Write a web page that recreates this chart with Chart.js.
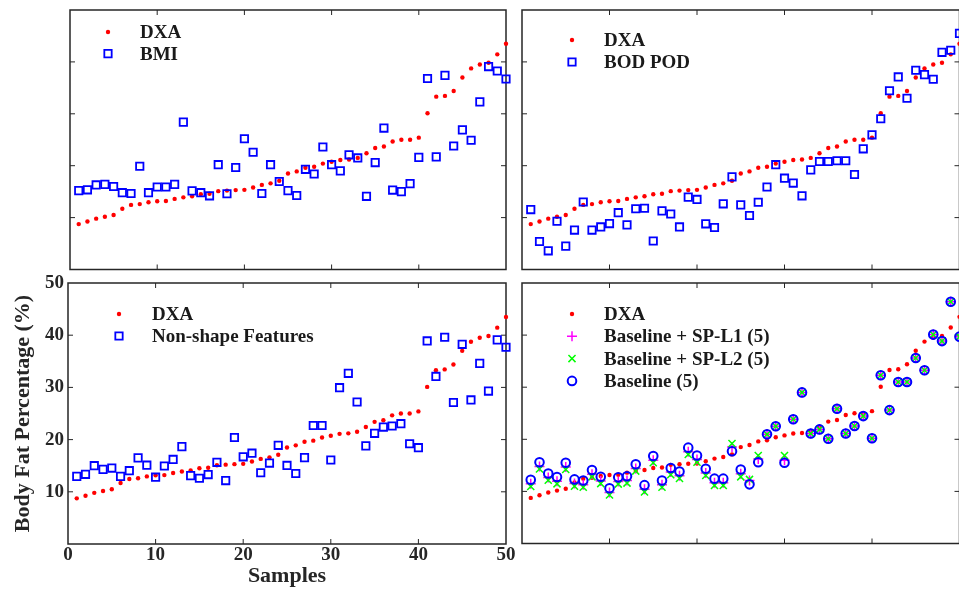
<!DOCTYPE html>
<html lang="en">
<head>
    <meta charset="UTF-8"/>
    <title>body fat percentage</title>
    <script src="https://cdn.jsdelivr.net/npm/chart.js@4.4.1/dist/chart.umd.min.js"></script>
    <style>
        html, body { margin: 0; padding: 0; background: #fff; overflow: hidden; }
        #wrap { position: relative; width: 959px; height: 591px; overflow: hidden; }
        #wrap canvas { position: absolute; }
    </style>
</head>
<body>
<div id="wrap">
    <canvas id="bmiChart" width="455" height="275" style="left:60px;top:0;"></canvas>
    <canvas id="podChart" width="445" height="275" style="left:515px;top:0;"></canvas>
    <canvas id="nsChart" width="515" height="316" style="left:0;top:275px;"></canvas>
    <canvas id="spChart" width="445" height="275" style="left:515px;top:275px;"></canvas>
</div>
<script>
    // samples (x) and tick values
    const SAMPLES = [1, 2, 3, 4, 5, 6, 7, 8, 9, 10, 11, 12, 13, 14, 15, 16, 17, 18, 19, 20,
        21, 22, 23, 24, 25, 26, 27, 28, 29, 30, 31, 32, 33, 34, 35, 36, 37, 38, 39, 40,
        41, 42, 43, 44, 45, 46, 47, 48, 49, 50];
    const X_TICKS = [0, 10, 20, 30, 40, 50];
    const Y_TICKS = [10, 20, 30, 40, 50];
    const INNER_TICKS = [10, 20, 30, 40];

    // body fat (%) per sample
    const DXA = [8.75, 9.25, 9.8, 10.15, 10.5, 11.7, 12.45, 12.6, 12.95, 13.15,
        13.2, 13.6, 13.9, 14.1, 14.5, 14.6, 15.1, 15.2, 15.3, 15.35,
        15.8, 16.3, 16.6, 17.1, 18.5, 18.9, 19.6, 19.8, 20.4, 20.75,
        21.1, 21.2, 21.5, 22.4, 23.4, 23.7, 24.65, 25.0, 25.0, 25.4,
        30.1, 33.3, 33.45, 34.4, 37.0, 38.75, 39.5, 39.85, 41.45, 43.5];
    const BMI = [15.2, 15.35, 16.3, 16.4, 16.0, 14.8, 14.65, 19.9, 14.8, 15.9,
        15.9, 16.4, 28.4, 15.15, 14.8, 14.2, 20.2, 14.6, 19.65, 25.2,
        22.6, 14.65, 20.2, 16.95, 15.2, 14.25, 19.3, 18.4, 23.6, 20.2,
        19.0, 22.1, 21.5, 14.1, 20.6, 27.25, 15.3, 15.0, 16.55, 21.6,
        36.8, 21.7, 37.4, 23.8, 26.9, 24.9, 32.3, 39.1, 38.25, 36.7];
    const BOD_POD = [11.55, 5.4, 3.6, 9.3, 4.5, 7.6, 13.0, 7.6, 8.2, 8.85,
        10.95, 8.6, 11.7, 11.8, 5.5, 11.3, 10.7, 8.2, 13.95, 13.5,
        8.8, 8.1, 12.65, 17.85, 12.45, 10.4, 12.95, 15.9, 20.2, 17.6,
        16.65, 14.2, 19.2, 20.8, 20.8, 20.95, 20.95, 18.3, 23.25, 25.95,
        29.05, 34.45, 37.1, 33.0, 38.4, 37.55, 36.65, 41.85, 42.25, 45.5];
    const NON_SHAPE = [12.95, 13.35, 15.0, 14.3, 14.55, 12.95, 14.05, 16.5, 15.1, 12.8,
        14.95, 16.2, 18.65, 13.1, 12.6, 13.3, 15.65, 12.15, 20.4, 16.7,
        17.4, 13.65, 15.5, 18.9, 15.05, 13.5, 16.55, 22.7, 22.7, 16.1,
        29.95, 32.7, 27.2, 18.8, 21.2, 22.4, 22.6, 23.05, 19.2, 18.45,
        38.9, 32.1, 39.6, 27.1, 38.25, 27.6, 34.6, 29.3, 39.1, 37.7];
    const BASELINE = [12.25, 15.6, 13.45, 12.75, 15.5, 12.3, 12.1, 14.1, 12.8, 10.6,
        12.7, 12.9, 15.2, 11.2, 16.8, 12.1, 14.5, 13.8, 18.4, 16.9,
        14.35, 12.45, 12.45, 17.7, 14.2, 11.35, 15.6, 20.95, 22.5, 15.5,
        23.85, 29.0, 21.1, 21.9, 20.1, 25.85, 21.1, 22.55, 24.45, 20.2,
        32.3, 25.6, 31.0, 31.0, 35.6, 33.25, 40.1, 38.85, 46.4, 39.7];
    const SP_L1 = [11.45, 14.8, 12.65, 11.95, 14.7, 11.5, 11.3, 13.3, 12.0, 9.8,
        11.9, 12.1, 14.4, 10.4, 16.0, 11.3, 13.7, 13.0, 17.6, 16.1,
        13.55, 11.65, 11.65, 18.5, 13.4, 12.1, 16.2, 20.95, 22.5, 16.0,
        23.85, 29.0, 21.1, 21.9, 20.1, 25.85, 21.1, 22.55, 24.45, 20.2,
        32.3, 25.6, 31.0, 31.0, 35.6, 33.25, 40.1, 38.85, 46.4, 39.7];
    const SP_L2 = [10.95, 14.3, 12.15, 11.45, 14.2, 11.0, 10.8, 12.8, 11.5, 9.3,
        11.4, 11.6, 13.9, 9.9, 15.5, 10.8, 13.2, 12.5, 17.1, 15.6,
        13.05, 11.15, 11.15, 19.2, 12.8, 12.3, 16.9, 20.95, 22.5, 16.9,
        23.85, 29.0, 21.1, 21.9, 20.1, 25.85, 21.1, 22.55, 24.45, 20.2,
        32.3, 25.6, 31.0, 31.0, 35.6, 33.25, 40.1, 38.85, 46.4, 39.7];

    const FONT = '"Liberation Serif", "Times New Roman", serif';
    const INK = '#262626';

    function pts(arr) {
        return arr.map((v, i) => ({x: SAMPLES[i], y: v}));
    }

    function dxaSet() {
        return {
            label: 'DXA', data: pts(DXA), pointStyle: 'circle', pointRadius: 2.2,
            pointBackgroundColor: '#ff0000', pointBorderColor: '#ff0000', pointBorderWidth: 0,
            order: 5, clip: false
        };
    }

    function squareSet(label, arr) {
        return {
            label: label, data: pts(arr), pointStyle: 'rect', pointRadius: 5.2,
            pointBackgroundColor: 'rgba(0,0,0,0)', pointBorderColor: '#0000ff', pointBorderWidth: 1.8,
            order: 1, clip: false
        };
    }

    // frame + inward tick marks (matlab look)
    const boxPlugin = {
        id: 'box',
        beforeDatasetsDraw(chart) {
            const {ctx, chartArea: a, scales: {x, y}} = chart;
            ctx.save();
            ctx.strokeStyle = INK;
            ctx.lineWidth = 1;
            ctx.beginPath();
            INNER_TICKS.forEach(v => {
                const px = x.getPixelForValue(v), py = y.getPixelForValue(v);
                ctx.moveTo(px, a.bottom); ctx.lineTo(px, a.bottom - 5);
                ctx.moveTo(px, a.top); ctx.lineTo(px, a.top + 5);
                ctx.moveTo(a.left, py); ctx.lineTo(a.left + 5, py);
                ctx.moveTo(a.right, py); ctx.lineTo(a.right - 5, py);
            });
            ctx.stroke();
            ctx.lineWidth = 1.5;
            ctx.strokeRect(a.left, a.top, a.right - a.left, a.bottom - a.top);
            ctx.restore();
        }
    };

    // legend drawn inside the plot area
    const legendPlugin = {
        id: 'innerLegend',
        afterDatasetsDraw(chart, args, opts) {
            const {ctx, chartArea: a} = chart;
            ctx.save();
            ctx.font = 'bold 19px ' + FONT;
            ctx.textBaseline = 'middle';
            chart.data.datasets.forEach((ds, i) => {
                const mx = a.left + opts.markX, my = a.top + opts.top + i * opts.gap;
                ctx.fillStyle = ds.pointBackgroundColor;
                ctx.strokeStyle = ds.pointBorderColor;
                ctx.lineWidth = ds.pointBorderWidth;
                Chart.helpers.drawPoint(ctx, {
                    pointStyle: ds.pointStyle, radius: ds.pointRadius, rotation: 0,
                    borderWidth: ds.pointBorderWidth
                }, mx, my);
                ctx.fillStyle = '#1a1a1a';
                ctx.fillText(ds.label, a.left + opts.textX, my + 1);
            });
            ctx.restore();
        }
    };

    function plainScales() {
        return {
            x: {type: 'linear', min: 0, max: 50, display: false},
            y: {type: 'linear', min: 0, max: 50, display: false}
        };
    }

    function makeChart(id, datasets, padding, legend, scales) {
        return new Chart(document.getElementById(id), {
            type: 'scatter',
            data: {datasets: datasets},
            options: {
                responsive: false,
                animation: false,
                devicePixelRatio: 1,
                layout: {padding: padding, autoPadding: false},
                scales: scales || plainScales(),
                plugins: {legend: {display: false}, tooltip: {enabled: false}, innerLegend: legend}
            },
            plugins: [boxPlugin, legendPlugin]
        });
    }

    // top left: BMI
    makeChart('bmiChart', [dxaSet(), squareSet('BMI', BMI)],
        {left: 10, right: 9, top: 10, bottom: 5.5},
        {markX: 38, textX: 70, top: 22, gap: 21.6});

    // top right: BOD POD
    makeChart('podChart', [dxaSet(), squareSet('BOD POD', BOD_POD)],
        {left: 7, right: 0.5, top: 10, bottom: 5.5},
        {markX: 50, textX: 82, top: 30, gap: 22});

    // bottom left: non-shape features, with the axes
    makeChart('nsChart', [dxaSet(), squareSet('Non-shape Features', NON_SHAPE)],
        {left: 0, right: 9, top: 8, bottom: 0},
        {markX: 51, textX: 84, top: 31, gap: 22},
        {
            x: {
                type: 'linear', min: 0, max: 50,
                afterBuildTicks: s => { s.ticks = X_TICKS.map(v => ({value: v})); },
                ticks: {font: {family: FONT, size: 19, weight: 'bold'}, color: INK, padding: 0, maxRotation: 0, autoSkip: false},
                grid: {display: false, drawTicks: false},
                border: {display: false},
                title: {
                    display: true, text: 'Samples', color: INK,
                    font: {family: FONT, size: 22, weight: 'bold'}, padding: {top: 0, bottom: 1}
                },
                afterFit: s => { s.height = 47; s.paddingLeft = 0; s.paddingRight = 0; }
            },
            y: {
                type: 'linear', min: 0, max: 50,
                afterBuildTicks: s => { s.ticks = Y_TICKS.map(v => ({value: v})); },
                ticks: {font: {family: FONT, size: 19, weight: 'bold'}, color: INK, padding: 4},
                grid: {display: false, drawTicks: false},
                border: {display: false},
                title: {
                    display: true, text: 'Body Fat Percentage (%)', color: INK,
                    font: {family: FONT, size: 22, weight: 'bold'}, padding: {top: 10, bottom: 0}
                },
                afterFit: s => { s.width = 68; s.paddingTop = 0; s.paddingBottom = 0; }
            }
        });

    // bottom right: baseline vs shape-feature models
    makeChart('spChart', [
            dxaSet(),
            {
                label: 'Baseline + SP-L1 (5)', data: pts(SP_L1), pointStyle: 'cross', pointRadius: 5,
                pointBackgroundColor: 'rgba(0,0,0,0)', pointBorderColor: '#ff00ff', pointBorderWidth: 1.5,
                order: 3, clip: false
            },
            {
                label: 'Baseline + SP-L2 (5)', data: pts(SP_L2), pointStyle: 'crossRot', pointRadius: 5,
                pointBackgroundColor: 'rgba(0,0,0,0)', pointBorderColor: '#00ff00', pointBorderWidth: 1.5,
                order: 2, clip: false
            },
            {
                label: 'Baseline (5)', data: pts(BASELINE), pointStyle: 'circle', pointRadius: 4.3,
                pointBackgroundColor: 'rgba(0,0,0,0)', pointBorderColor: '#0000ff', pointBorderWidth: 2,
                order: 1, clip: false
            }
        ],
        {left: 7, right: 0.5, top: 8, bottom: 6.5},
        {markX: 50, textX: 82, top: 31, gap: 22.3});
</script>
</body>
</html>
